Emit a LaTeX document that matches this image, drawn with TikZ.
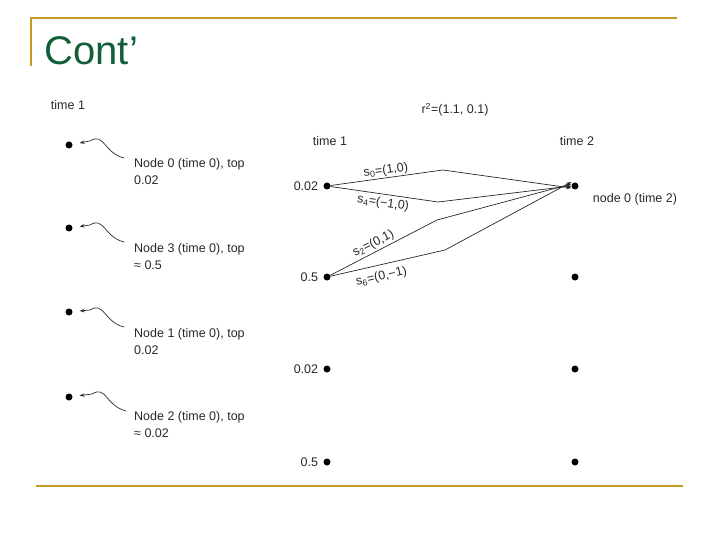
\documentclass[tikz,border=0pt]{standalone}
\usepackage{fontspec}
\setmainfont{Liberation Sans}
\definecolor{slgold}{RGB}{196,154,34}
\definecolor{slgreen}{RGB}{18,94,56}
\definecolor{slgray}{RGB}{40,40,40}
\usetikzlibrary{arrows.meta,positioning,calc}

\begin{document}
\begin{tikzpicture}[
  x=1pt, y=-1pt,
  dot/.style={circle, fill=black, inner sep=0pt, minimum size=7pt},
  lbl/.style={font=\fontsize{12.5}{17}\selectfont, text=slgray, inner sep=1pt},
  note/.style={lbl, align=left, anchor=north west},
  conn/.style={-{Stealth[length=5pt,width=3.5pt]}, draw=slgray, line width=0.7pt},
  hook/.style={-{Stealth[length=5pt,width=3.5pt]}, draw=slgray, line width=0.7pt, shorten >=7pt}
]
\useasboundingbox (0,0) rectangle (720,540);

% slide frame
\draw[slgold, line width=2.5pt] (30,18) -- (677,18);
\draw[slgold, line width=2.5pt] (31,17) -- (31,66);
\draw[slgold, line width=2.5pt] (36,486) -- (683,486);
\node[font=\fontsize{40}{44}\selectfont, text=slgreen, anchor=base west] (title) at (41,65) {Cont’};

% left column: time 1 nodes
\node[lbl] (lt) at (68,105) {time 1};
\node[dot] (l1) at (69,145) {};
\node[dot] (l2) at (69,228) {};
\node[dot] (l3) at (69,312) {};
\node[dot] (l4) at (69,397) {};

\node[note] (n1) at (133,157) {Node 0 (time 0), top\\0.02};
\node[note] (n2) at (133,242) {Node 3 (time 0), top\\≈ 0.5};
\node[note] (n3) at (133,327) {Node 1 (time 0), top\\0.02};
\node[note] (n4) at (133,410) {Node 2 (time 0), top\\≈ 0.02};

\coordinate (h1) at (124,158);
\coordinate (h2) at (124,242);
\coordinate (h3) at (124,327);
\coordinate (h4) at (126,411);
\foreach \i in {1,2,3,4}
  \draw[hook] (h\i) .. controls ($(h\i)+(-20,-5)$) and ($(h\i)+(-20,-26)$) .. ($(h\i)+(-34,-17)$) -- (l\i);

% header labels
\node[lbl] (rr) at (455,110) {r\textsuperscript{2}=(1.1, 0.1)};
\node[lbl] (t1) at (330,141) {time 1};
\node[lbl] (t2) at (577,141) {time 2};

% time 1 nodes
\node[dot] (a1) at (327,186) {};
\node[dot] (a2) at (327,277) {};
\node[dot] (a3) at (327,369) {};
\node[dot] (a4) at (327,462) {};
\node[lbl, left=4pt of a1] {0.02};
\node[lbl, left=4pt of a2] {0.5};
\node[lbl, left=4pt of a3] {0.02};
\node[lbl, left=4pt of a4] {0.5};

% time 2 nodes
\node[dot] (b1) at (575,186) {};
\node[dot] (b2) at (575,277) {};
\node[dot] (b3) at (575,369) {};
\node[dot] (b4) at (575,462) {};
\node[lbl] (bn) at (635,199) {node 0 (time 2)};

% kinks
\coordinate (k0) at (443,170);
\coordinate (k4) at (438,202);
\coordinate (k2) at (437,220);
\coordinate (k6) at (445,250);

\draw[conn] (a1) -- node[lbl, above, sloped] {s\textsubscript{0}=(1,0)} (k0) -- ([yshift=-2pt]b1.west);
\draw[conn] (a1) -- node[lbl, below=2pt, sloped] {s\textsubscript{4}=(−1,0)} (k4) -- ([yshift=0pt]b1.west);
\draw[conn] (a2) -- node[lbl, above=1pt, sloped, pos=0.44] {s\textsubscript{2}=(0,1)} (k2) -- ([yshift=2pt]b1.west);
\draw[conn] (a2) -- node[lbl, below=5pt, sloped, pos=0.42] {s\textsubscript{6}=(0,−1)} (k6) -- ([yshift=4pt]b1.west);
\end{tikzpicture}
\end{document}
